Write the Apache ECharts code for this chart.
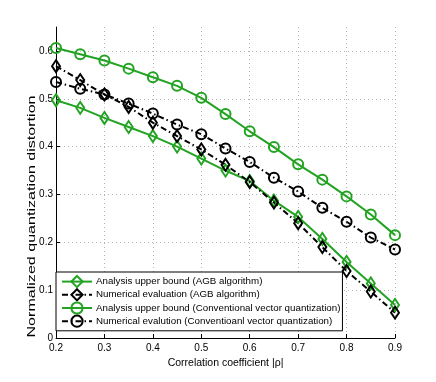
<!DOCTYPE html>
<html>
<head>
<meta charset="utf-8">
<script src="https://cdn.jsdelivr.net/npm/echarts@6/dist/echarts.min.js"></script>
<style>
html,body{margin:0;padding:0;background:#fff;}
#chart{width:436px;height:382px;}
</style>
</head>
<body>
<div id="chart"></div>
<script>
// Data
const rho = [0.2, 0.25, 0.3, 0.35, 0.4, 0.45, 0.5, 0.55, 0.6, 0.65, 0.7, 0.75, 0.8, 0.85, 0.9];
const agbBound   = [0.497, 0.481, 0.460, 0.441, 0.422, 0.400, 0.375, 0.350, 0.328, 0.287, 0.253, 0.207, 0.159, 0.114, 0.069];
const agbNumeric = [0.568, 0.539, 0.509, 0.483, 0.450, 0.422, 0.394, 0.362, 0.326, 0.283, 0.240, 0.190, 0.140, 0.097, 0.053];
const vqBound    = [0.606, 0.593, 0.580, 0.563, 0.545, 0.527, 0.502, 0.468, 0.432, 0.399, 0.363, 0.331, 0.296, 0.258, 0.215];
const vqNumeric  = [0.535, 0.521, 0.509, 0.490, 0.469, 0.446, 0.426, 0.396, 0.368, 0.335, 0.306, 0.272, 0.243, 0.210, 0.185];
const seriesNames = [
  'Analysis upper bound (AGB algorithm)',
  'Numerical evaluation (AGB algorithm)',
  'Analysis upper bound (Conventional vector quantization)',
  'Numerical evalution (Conventioanl vector quantization)'
];
const xTitle = 'Correlation coefficient |\u03c1|';
const yTitle = 'Normalized quantization distortion';

const GREEN = '#22a322';
const BLACK = '#000000';
const FONT = '"Liberation Sans", Arial, Helvetica, sans-serif';
const DASHDOT = [6, 3, 1.5, 3];

function pairs(ys) { return rho.map((x, i) => [x, ys[i]]); }
function mk(name, ys, color, symbol, size, dashed) {
  return {
    name: name,
    type: 'line',
    data: pairs(ys),
    color: color,
    symbol: symbol,
    symbolSize: size,
    showSymbol: true,
    lineStyle: { color: color, width: 2, type: dashed ? DASHDOT : 'solid' },
    itemStyle: { color: 'rgba(255,255,255,0)', borderColor: color, borderWidth: 2 },
    emphasis: { disabled: true },
    z: 3
  };
}
function fmt(v) { return String(Math.round(v * 10) / 10); }

const chart = echarts.init(document.getElementById('chart'), null, { renderer: 'canvas' });
chart.setOption({
  animation: false,
  backgroundColor: '#ffffff',
  textStyle: { fontFamily: FONT },
  grid: { left: 56, right: 41, top: 27, bottom: 44, containLabel: false },
  xAxis: {
    type: 'value', min: 0.2, max: 0.9, interval: 0.1,
    name: xTitle, nameLocation: 'middle', nameGap: 19,
    nameTextStyle: { color: '#000', fontSize: 10.5, fontFamily: FONT },
    axisLine: { show: true, onZero: false, lineStyle: { color: '#000', width: 1 } },
    axisTick: { show: true, inside: true, length: 4, lineStyle: { color: '#000' } },
    axisLabel: { color: '#000', fontSize: 10, margin: 5, formatter: fmt, fontFamily: FONT },
    splitLine: { show: true, showMinLine: false, lineStyle: { color: '#b4b4b4', type: [1, 3], width: 1 } }
  },
  yAxis: {
    type: 'value', min: 0, max: 0.65, interval: 0.1,
    axisLine: { show: true, onZero: false, lineStyle: { color: '#000', width: 1 } },
    axisTick: { show: true, inside: true, length: 4, lineStyle: { color: '#000' } },
    axisLabel: { color: '#000', fontSize: 10, margin: 3, formatter: fmt, showMaxLabel: false, fontFamily: FONT },
    splitLine: { show: true, showMinLine: false, showMaxLine: false, lineStyle: { color: '#b4b4b4', type: [1, 3], width: 1 } }
  },
  legend: {
    orient: 'vertical',
    left: 56, top: 272,
    backgroundColor: '#ffffff',
    borderColor: '#000', borderWidth: 1, borderRadius: 0,
    padding: [3, 2, 3, 5],
    itemWidth: 30, itemHeight: 14, itemGap: 0,
    selectedMode: false,
    textStyle: { color: '#000', fontSize: 9.75, fontFamily: FONT, padding: [0, 0, 0, -1] },
    data: seriesNames
  },
  graphic: [{
    type: 'text',
    x: 32, y: 216.5,
    rotation: Math.PI / 2,
    scaleX: 1.53, scaleY: 1,
    style: { text: yTitle, fill: '#000', font: '10.5px ' + FONT, textAlign: 'center', textVerticalAlign: 'middle' }
  }],
  series: [
    mk(seriesNames[0], agbBound, GREEN, 'diamond', [8, 12], false),
    mk(seriesNames[1], agbNumeric, BLACK, 'diamond', [8, 12], true),
    mk(seriesNames[2], vqBound, GREEN, 'circle', 10, false),
    mk(seriesNames[3], vqNumeric, BLACK, 'circle', 10, true)
  ]
});
</script>
</body>
</html>
